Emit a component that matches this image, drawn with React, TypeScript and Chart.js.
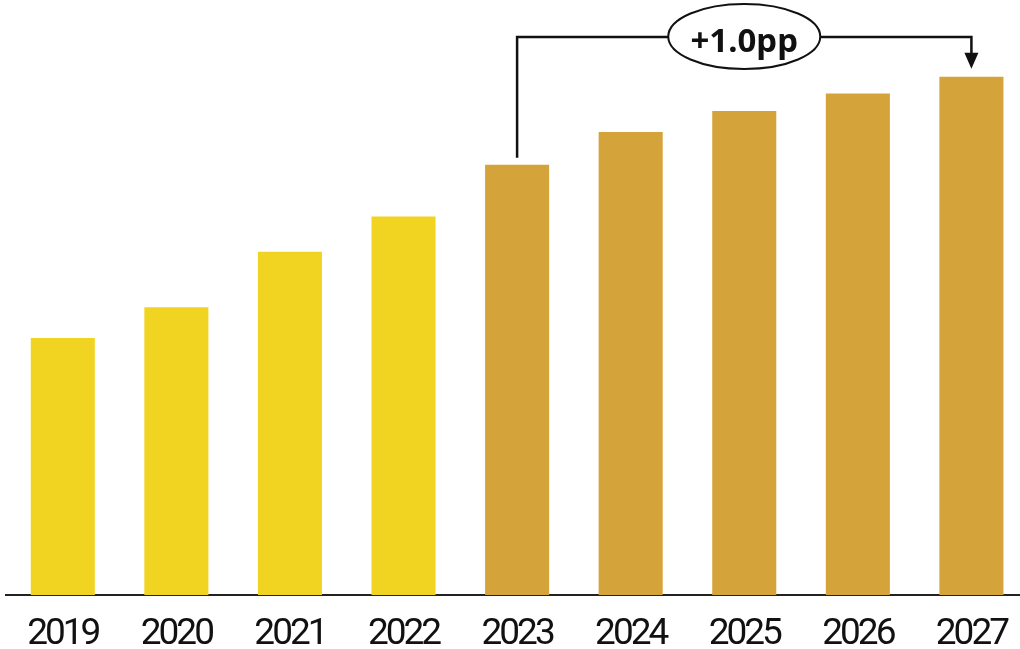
import React, { useEffect, useRef } from "react";
import { Chart, registerables } from "chart.js";

Chart.register(...registerables);

const years = ["2019", "2020", "2021", "2022", "2023", "2024", "2025", "2026", "2027"];
const shareValues = [2.92, 3.27, 3.9, 4.3, 4.89, 5.26, 5.5, 5.7, 5.89];
const forecastFrom = "2023";
const changeLabel = "+1.0pp";
const changeFrom = "2023";
const changeTo = "2027";

const ACTUAL_COLOR = "#F1D421";
const FORECAST_COLOR = "#D4A33A";

const bracketPlugin = {
  id: "bracket",
  beforeDraw(chart: any) {
    chart.ctx.letterSpacing = "-3px";
  },
  afterDraw(chart: any) {
    const ctx = chart.ctx;
    ctx.save();
    ctx.letterSpacing = "0px";
    const xs = chart.scales.x;
    const ys = chart.scales.y;
    const i0 = years.indexOf(changeFrom);
    const i1 = years.indexOf(changeTo);
    const x0 = xs.getPixelForValue(i0);
    const x1 = xs.getPixelForValue(i1);
    const y0 = ys.getPixelForValue(shareValues[i0]);
    const y1 = ys.getPixelForValue(shareValues[i1]);
    const lineY = 37;
    const cx = (x0 + x1) / 2;
    const rx = 76;
    const ry = 32.5;

    ctx.strokeStyle = "#111";
    ctx.fillStyle = "#111";
    ctx.lineWidth = 2.5;
    ctx.beginPath();
    ctx.moveTo(x0, y0 - 7);
    ctx.lineTo(x0, lineY);
    ctx.lineTo(cx - rx, lineY);
    ctx.moveTo(cx + rx, lineY);
    ctx.lineTo(x1, lineY);
    ctx.lineTo(x1, y1 - 22);
    ctx.stroke();

    // arrow head
    ctx.beginPath();
    ctx.moveTo(x1 - 7, y1 - 24);
    ctx.lineTo(x1 + 7, y1 - 24);
    ctx.lineTo(x1, y1 - 8);
    ctx.closePath();
    ctx.fill();

    // ellipse
    ctx.lineWidth = 2;
    ctx.beginPath();
    ctx.ellipse(cx, lineY - 0.5, rx, ry, 0, 0, Math.PI * 2);
    ctx.fillStyle = "#fff";
    ctx.fill();
    ctx.stroke();

    ctx.fillStyle = "#111";
    ctx.font = "bold 33px 'Noto Sans', Roboto, sans-serif";
    ctx.textAlign = "center";
    ctx.textBaseline = "alphabetic";
    ctx.fillText(changeLabel, cx, lineY + 15);
    ctx.restore();
  },
};

export default function App() {
  const ref = useRef<HTMLCanvasElement>(null);
  useEffect(() => {
    if (!ref.current) return;
    const fi = years.indexOf(forecastFrom);
    const colors = years.map((_, i) => (i >= fi ? FORECAST_COLOR : ACTUAL_COLOR));
    const chart = new Chart(ref.current, {
      type: "bar",
      data: {
        labels: years,
        datasets: [
          {
            data: shareValues,
            backgroundColor: colors,
            borderWidth: 0,
            categoryPercentage: 1,
            barPercentage: 0.564,
          },
        ],
      },
      options: {
        responsive: false,
        animation: false,
        devicePixelRatio: 1,
        layout: { padding: { top: 23, left: 6, right: 0, bottom: 0 } },
        plugins: { legend: { display: false }, tooltip: { enabled: false } },
        scales: {
          x: {
            grid: { display: false, drawTicks: false },
            border: { display: true, color: "#222", width: 2 },
            ticks: {
              color: "#111",
              font: { family: "Roboto", size: 37 },
              padding: 18,
              maxRotation: 0,
              autoSkip: false,
            },
            afterFit: (scale: any) => {
              scale.height = 54;
            },
          },
          y: { display: false, min: 0, max: 6.5 },
        },
      },
      plugins: [bracketPlugin],
    });
    return () => chart.destroy();
  }, []);
  return (
    <div
      style={{
        position: "fixed",
        left: 0,
        top: 0,
        width: 1020,
        height: 649,
        overflow: "hidden",
        background: "#fff",
      }}
    >
      <canvas ref={ref} width={1031} height={649} style={{ display: "block" }} />
    </div>
  );
}
